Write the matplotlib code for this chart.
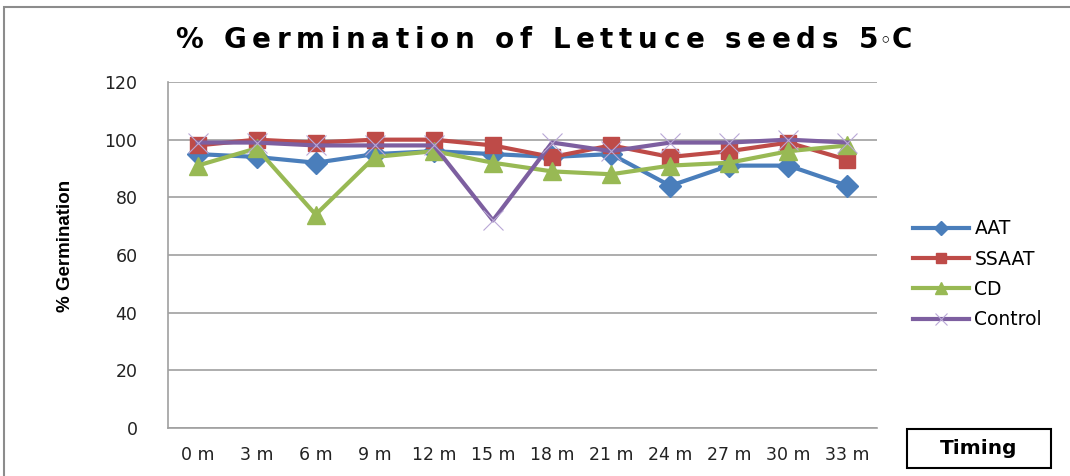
import matplotlib.pyplot as plt
from matplotlib.patches import Rectangle
from matplotlib.lines import Line2D

# ---------------------------------------------------------------------------
# Datos
# ---------------------------------------------------------------------------
timing = ["0 m", "3 m", "6 m", "9 m", "12 m", "15 m", "18 m", "21 m",
          "24 m", "27 m", "30 m", "33 m"]
aat = [95, 94, 92, 95, 96, 95, 94, 95, 84, 91, 91, 84]
ssaat = [98, 100, 99, 100, 100, 98, 94, 98, 94, 96, 99, 93]
cd = [91, 97, 74, 94, 96, 92, 89, 88, 91, 92, 96, 98]
control = [99, 99, 98, 98, 98, 72, 99, 96, 99, 99, 100, 99]
yticks = [0, 20, 40, 60, 80, 100, 120]
title = "% Germination of Lettuce seeds 5\u25e6C"

W, H = 1070, 476
fig = plt.figure(figsize=(W / 100, H / 100), dpi=100)

# borde exterior del área del gráfico
fig.patches.append(Rectangle((4 / W, -0.05), 1.2, 1 - 7 / H + 0.05,
                             transform=fig.transFigure, fill=False,
                             edgecolor="#8c8c8c", lw=1.5))

ax = fig.add_axes([168 / W, 1 - 428 / H, (877 - 168) / W, (428 - 82) / H])

x = list(range(len(timing)))
series = [
    ("AAT", aat, "#4A7EBB", "D", 11, 1),
    ("SSAAT", ssaat, "#BE4B48", "s", 11, 1),
    ("CD", cd, "#98B954", "^", 13, 1),
    ("Control", control, "#7D5FA0", "x", 14, 0.8),
]
handles = []
for name, vals, col, mk, ms, mew in series:
    edge = col if mk != "x" else "#b9a8d6"
    ax.plot(x, vals, color=col, lw=3, marker=mk, ms=ms,
            markeredgewidth=mew, markeredgecolor=edge,
            markerfacecolor=col, solid_joinstyle="round")
    handles.append(Line2D([], [], color=col, lw=3, marker=mk,
                          ms=ms * 0.65, markeredgecolor=edge,
                          markerfacecolor=col, markeredgewidth=mew))

ax.set_xlim(-0.5, len(timing) - 0.5)
ax.set_ylim(0, 120)
ax.set_yticks(yticks)
ax.set_xticks(x)
ax.set_xticklabels(timing)
ax.grid(axis="y", color="#a0a0a0", lw=1.2)
ax.set_axisbelow(True)
for s in ["top", "right"]:
    ax.spines[s].set_visible(False)
for s in ["left", "bottom"]:
    ax.spines[s].set_color("#a0a0a0")
    ax.spines[s].set_linewidth(1.2)
ax.tick_params(length=0, labelsize=12.5, pad=13, labelcolor="#222222")
ax.tick_params(axis="y", pad=22)
for lab in ax.get_xticklabels() + ax.get_yticklabels():
    lab.set_family("DejaVu Sans")

fig.text(65 / W, 1 - 246 / H, "% Germination", rotation=90, ha="center",
         va="center", fontsize=13.5, fontweight="bold", family="Liberation Sans")

# título con espaciado entre letras (como en el original)
renderer = fig.canvas.get_renderer()
tkw = dict(fontsize=20, fontweight="bold", family="DejaVu Sans",
           va="baseline", ha="left")
small = dict(tkw, fontsize=13)
widths = []
for ch in title:
    if ch == " ":
        widths.append(0.0)
        continue
    t = fig.text(0, 0, ch, **(small if ch == "\u25e6" else tkw))
    widths.append(t.get_window_extent(renderer).width)
    t.remove()
x0, x1 = 175, 910
space_w = 9
n_sp = title.count(" ")
# "5◦C" va casi pegado: 2 huecos sin espaciado extra
track = (x1 - x0 - sum(widths) - n_sp * space_w) / (len(title) - 3)
xpos = x0
for i, (ch, w) in enumerate(zip(title, widths)):
    if ch == " ":
        xpos += space_w + track
        continue
    if ch == "\u25e6":
        fig.text(xpos / W, 1 - 46 / H, ch, **small)
    else:
        fig.text(xpos / W, 1 - 48 / H, ch, **tkw)
    xpos += w + (track if i < len(title) - 3 else 1)

leg = fig.legend(handles, [s[0] for s in series], loc="upper left",
                 bbox_to_anchor=(905 / W, 1 - 212 / H), frameon=False,
                 fontsize=13.5, handlelength=3.0, labelspacing=0.6,
                 handletextpad=0.3, borderaxespad=0)
for t in leg.get_texts():
    t.set_family("DejaVu Sans")

fig.patches.append(Rectangle((907 / W, 1 - 468 / H), 144 / W, 39 / H,
                             transform=fig.transFigure, fill=False,
                             edgecolor="black", lw=1.5))
fig.text(979 / W, 1 - 449 / H, "Timing", ha="center", va="center",
         fontsize=14.5, fontweight="bold", family="DejaVu Sans")

fig.savefig("out.png", dpi=100)
